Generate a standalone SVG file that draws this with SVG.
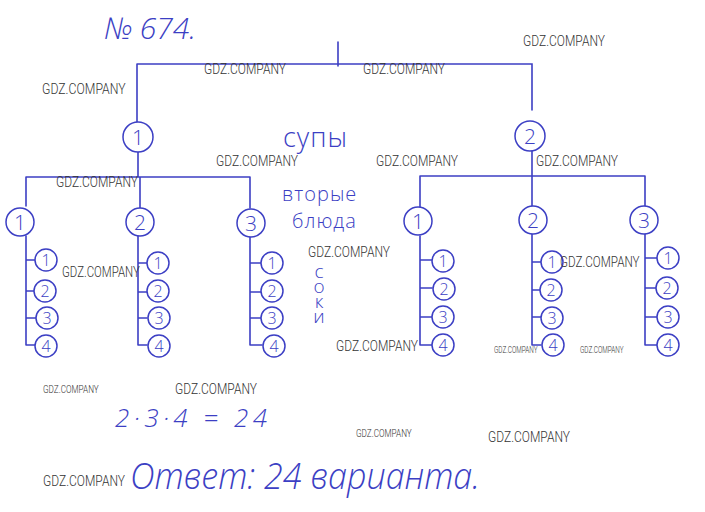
<svg xmlns="http://www.w3.org/2000/svg" width="705" height="512" viewBox="0 0 705 512">
<style>
.ink{stroke:#3c3fc4;stroke-width:1.6;fill:none;stroke-linecap:round}
.nd{stroke:#3c3fc4;stroke-width:1.5;fill:#fff}
.n{font-family:"Open Sans","DejaVu Sans",sans-serif;fill:#3c3fc4;text-anchor:middle;font-weight:300}
.hw{font-family:"Open Sans","DejaVu Sans",sans-serif;fill:#3c3fc4;font-weight:300}
.wm{font-family:Roboto,"Liberation Sans",sans-serif;fill:#333;font-weight:300}
</style>
<rect width="705" height="512" fill="#fff"/>
<g id="connectors">
<path class="ink" d="M338 42V66M137 64H532V110M137 64V122M138 152V177M26 177H250M26 177V206M140 177V208M250 177V208M532 151V176M420 176H645M420 176V207M532 176V206M645 176V206"/>
<path class="ink" d="M26 236V345M26 260H36M26 291H36M26 318H36M26 345H36"/>
<path class="ink" d="M138 236V345M138 263H147M138 292H147M138 318H147M138 345H147"/>
<path class="ink" d="M250 237V345M250 263H262M250 292H262M250 318H262M250 345H262"/>
<path class="ink" d="M420 236V345M420 260H432M420 288H432M420 317H432M420 345H432"/>
<path class="ink" d="M532 234V345M532 262H541M532 290H541M532 317H541M532 345H541"/>
<path class="ink" d="M645 234V345M645 258H657M645 288H657M645 317H657M645 345H657"/>
</g>
<g id="root1"><circle class="nd" cx="138" cy="137" r="15"/><text class="n" x="138" y="145" font-size="21">1</text></g>
<g id="root2"><circle class="nd" cx="530" cy="136" r="15"/><text class="n" x="530" y="144" font-size="21">2</text></g>
<g id="a1"><circle class="nd" cx="20" cy="222" r="14"/><text class="n" x="20" y="230" font-size="21">1</text></g>
<g id="a2"><circle class="nd" cx="140" cy="222" r="14"/><text class="n" x="140" y="230" font-size="21">2</text></g>
<g id="a3"><circle class="nd" cx="251" cy="223" r="14"/><text class="n" x="251" y="231" font-size="21">3</text></g>
<g id="b1"><circle class="nd" cx="418" cy="221" r="14"/><text class="n" x="418" y="229" font-size="21">1</text></g>
<g id="b2"><circle class="nd" cx="533" cy="220" r="14"/><text class="n" x="533" y="228" font-size="21">2</text></g>
<g id="b3"><circle class="nd" cx="644" cy="220" r="14"/><text class="n" x="644" y="228" font-size="21">3</text></g>
<g id="a1-leaves" font-size="16">
<g><circle class="nd" cx="46" cy="260" r="11"/><text class="n" x="46" y="266">1</text></g>
<g><circle class="nd" cx="45" cy="291" r="11"/><text class="n" x="45" y="297">2</text></g>
<g><circle class="nd" cx="47" cy="318" r="11"/><text class="n" x="47" y="324">3</text></g>
<g><circle class="nd" cx="46" cy="346" r="11"/><text class="n" x="46" y="352">4</text></g>
</g>
<g id="a2-leaves" font-size="16">
<g><circle class="nd" cx="158" cy="263" r="11"/><text class="n" x="158" y="269">1</text></g>
<g><circle class="nd" cx="158" cy="291" r="11"/><text class="n" x="158" y="297">2</text></g>
<g><circle class="nd" cx="159" cy="318" r="11"/><text class="n" x="159" y="324">3</text></g>
<g><circle class="nd" cx="159" cy="346" r="11"/><text class="n" x="159" y="352">4</text></g>
</g>
<g id="a3-leaves" font-size="16">
<g><circle class="nd" cx="272" cy="263" r="11"/><text class="n" x="272" y="269">1</text></g>
<g><circle class="nd" cx="272" cy="291" r="11"/><text class="n" x="272" y="297">2</text></g>
<g><circle class="nd" cx="272" cy="318" r="11"/><text class="n" x="272" y="324">3</text></g>
<g><circle class="nd" cx="274" cy="346" r="11"/><text class="n" x="274" y="352">4</text></g>
</g>
<g id="b1-leaves" font-size="16">
<g><circle class="nd" cx="443" cy="261" r="11"/><text class="n" x="443" y="267">1</text></g>
<g><circle class="nd" cx="444" cy="289" r="11"/><text class="n" x="444" y="295">2</text></g>
<g><circle class="nd" cx="443" cy="317" r="11"/><text class="n" x="443" y="323">3</text></g>
<g><circle class="nd" cx="443" cy="345" r="11"/><text class="n" x="443" y="351">4</text></g>
</g>
<g id="b2-leaves" font-size="16">
<g><circle class="nd" cx="552" cy="262" r="11"/><text class="n" x="552" y="268">1</text></g>
<g><circle class="nd" cx="551" cy="290" r="11"/><text class="n" x="551" y="296">2</text></g>
<g><circle class="nd" cx="552" cy="318" r="11"/><text class="n" x="552" y="324">3</text></g>
<g><circle class="nd" cx="553" cy="345" r="11"/><text class="n" x="553" y="351">4</text></g>
</g>
<g id="b3-leaves" font-size="16">
<g><circle class="nd" cx="668" cy="258" r="11"/><text class="n" x="668" y="264">1</text></g>
<g><circle class="nd" cx="667" cy="288" r="11"/><text class="n" x="667" y="294">2</text></g>
<g><circle class="nd" cx="668" cy="317" r="11"/><text class="n" x="668" y="323">3</text></g>
<g><circle class="nd" cx="668" cy="345" r="11"/><text class="n" x="668" y="351">4</text></g>
</g>
<g id="labels">
<text class="hw" x="104" y="39" font-size="30" font-style="italic">№ 674.</text>
<text class="hw" x="283" y="147" font-size="27" letter-spacing="1">супы</text>
<text class="hw" x="282" y="201" font-size="20" letter-spacing="1">вторые</text>
<text class="hw" x="292" y="228" font-size="20" letter-spacing="1">блюда</text>
<text class="hw" font-size="19" text-anchor="middle"><tspan x="319" y="278">с</tspan><tspan x="319" y="293">о</tspan><tspan x="319" y="308">к</tspan><tspan x="319" y="323">и</tspan></text>
<text class="hw" x="115" y="427" font-size="26" font-style="italic" textLength="152" lengthAdjust="spacing">2·3·4 = 24</text>
<text class="hw" x="130" y="489" font-size="36" font-style="italic" textLength="350" lengthAdjust="spacingAndGlyphs">Ответ: 24 варианта.</text>
</g>
<g id="watermarks" class="wm" font-size="15">
<text transform="translate(523 46) scale(0.82 1)" textLength="100" lengthAdjust="spacingAndGlyphs">GDZ.COMPANY</text>
<text transform="translate(204 74) scale(0.82 1)" textLength="100" lengthAdjust="spacingAndGlyphs">GDZ.COMPANY</text>
<text transform="translate(363 74) scale(0.82 1)" textLength="100" lengthAdjust="spacingAndGlyphs">GDZ.COMPANY</text>
<text transform="translate(42 94) scale(0.82 1)" textLength="102" lengthAdjust="spacingAndGlyphs">GDZ.COMPANY</text>
<text transform="translate(216 166) scale(0.82 1)" textLength="100" lengthAdjust="spacingAndGlyphs">GDZ.COMPANY</text>
<text transform="translate(376 166) scale(0.82 1)" textLength="100" lengthAdjust="spacingAndGlyphs">GDZ.COMPANY</text>
<text transform="translate(536 166) scale(0.82 1)" textLength="100" lengthAdjust="spacingAndGlyphs">GDZ.COMPANY</text>
<text transform="translate(56 187) scale(0.82 1)" textLength="100" lengthAdjust="spacingAndGlyphs">GDZ.COMPANY</text>
<text transform="translate(62 277) scale(0.82 1)" textLength="95" lengthAdjust="spacingAndGlyphs">GDZ.COMPANY</text>
<text transform="translate(308 257) scale(0.82 1)" textLength="100" lengthAdjust="spacingAndGlyphs">GDZ.COMPANY</text>
<text transform="translate(560 267) scale(0.82 1)" textLength="97" lengthAdjust="spacingAndGlyphs">GDZ.COMPANY</text>
<text transform="translate(336 351) scale(0.82 1)" textLength="100" lengthAdjust="spacingAndGlyphs">GDZ.COMPANY</text>
<text transform="translate(494 353) scale(0.82 1)" font-size="9" textLength="53" lengthAdjust="spacingAndGlyphs">GDZ.COMPANY</text>
<text transform="translate(580 353) scale(0.82 1)" font-size="9" textLength="53" lengthAdjust="spacingAndGlyphs">GDZ.COMPANY</text>
<text transform="translate(43 393) scale(0.82 1)" font-size="11" textLength="68" lengthAdjust="spacingAndGlyphs">GDZ.COMPANY</text>
<text transform="translate(175 394) scale(0.82 1)" textLength="100" lengthAdjust="spacingAndGlyphs">GDZ.COMPANY</text>
<text transform="translate(356 437) scale(0.82 1)" font-size="11" textLength="68" lengthAdjust="spacingAndGlyphs">GDZ.COMPANY</text>
<text transform="translate(488 442) scale(0.82 1)" textLength="100" lengthAdjust="spacingAndGlyphs">GDZ.COMPANY</text>
<text transform="translate(43 486) scale(0.82 1)" font-size="14" textLength="100" lengthAdjust="spacingAndGlyphs">GDZ.COMPANY</text>
</g>
</svg>
